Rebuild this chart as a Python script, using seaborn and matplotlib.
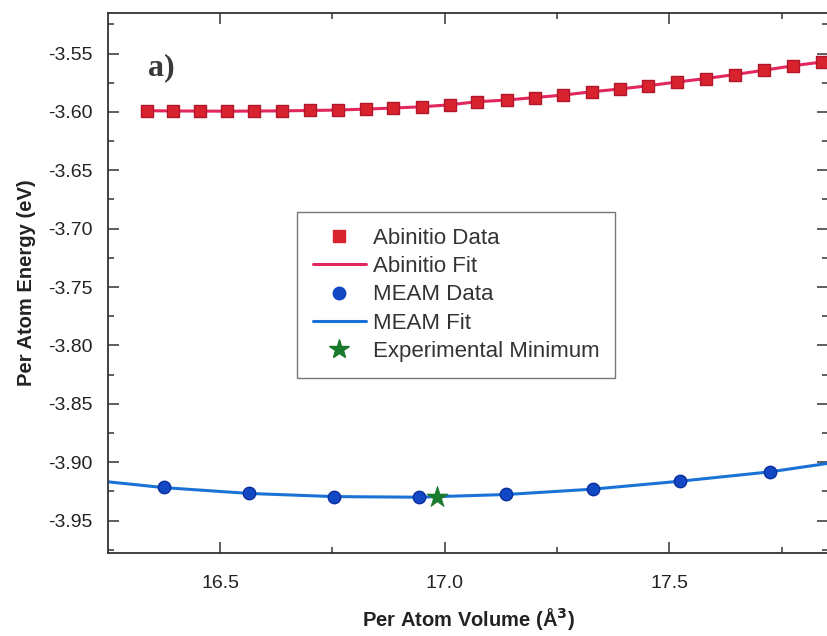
import numpy as np
import pandas as pd
import matplotlib
matplotlib.use("Agg")
import matplotlib.pyplot as plt
import seaborn as sns
from matplotlib.ticker import MultipleLocator, FormatStrFormatter
from matplotlib.lines import Line2D

# ---------------- data ----------------
abinitio_volume = [16.338, 16.395, 16.456, 16.516, 16.576, 16.638, 16.700, 16.763,
                   16.825, 16.885, 16.950, 17.012, 17.072, 17.139, 17.201, 17.263,
                   17.328, 17.390, 17.453, 17.517, 17.582, 17.646, 17.711, 17.775,
                   17.839]
abinitio_energy = [-3.5990, -3.5992, -3.5993, -3.5994, -3.5993, -3.5991, -3.5988,
                   -3.5984, -3.5976, -3.5967, -3.5956, -3.5939, -3.5913, -3.5898,
                   -3.5877, -3.5856, -3.5827, -3.5804, -3.5776, -3.5744, -3.5714,
                   -3.5680, -3.5643, -3.5605, -3.5573]

meam_volume = [16.375, 16.565, 16.754, 16.943, 17.137, 17.330, 17.524, 17.724]
meam_energy = [-3.9216, -3.9267, -3.9296, -3.9301, -3.9276, -3.9230, -3.9162, -3.9082]

meam_fit_volume = [16.250, 16.375, 16.565, 16.754, 16.943, 17.137, 17.330, 17.524,
                   17.724, 17.853]
meam_fit_energy = [-3.9168, -3.9218, -3.9268, -3.9295, -3.9300, -3.9277, -3.9231,
                   -3.9163, -3.9083, -3.9010]

exp_min_volume = [16.983]
exp_min_energy = [-3.9296]

x_ticks = [16.5, 17.0, 17.5]
y_ticks = [-3.95, -3.90, -3.85, -3.80, -3.75, -3.70, -3.65, -3.60, -3.55]

legend_labels = ["Abinitio Data", "Abinitio Fit", "MEAM Data", "MEAM Fit",
                 "Experimental Minimum"]

# ---------------- styling ----------------
sns.set_theme(style="ticks")
plt.rcParams['font.family'] = ['Liberation Sans', 'DejaVu Sans']
plt.rcParams['axes.unicode_minus'] = False

red_fill = "#d8232f"
red_edge = "#b0172a"
red_line = "#e2275e"
blue_fill = "#1348c4"
blue_edge = "#0a2f9c"
blue_line = "#1a72d6"
star_col = "#1a7a2c"
spine_col = "#333333"

fig = plt.figure(figsize=(8.28, 6.36), dpi=100)
ax = fig.add_axes([108 / 828, 83 / 636, 720 / 828, 540 / 636])

df_ab = pd.DataFrame({"v": abinitio_volume, "e": abinitio_energy})
df_meam = pd.DataFrame({"v": meam_volume, "e": meam_energy})
df_meam_fit = pd.DataFrame({"v": meam_fit_volume, "e": meam_fit_energy})
df_exp = pd.DataFrame({"v": exp_min_volume, "e": exp_min_energy})

sns.lineplot(data=df_ab, x="v", y="e", ax=ax, color=red_line, linewidth=2.2,
             errorbar=None, zorder=2, legend=False)
sns.lineplot(data=df_meam_fit, x="v", y="e", ax=ax, color=blue_line, linewidth=2.2,
             errorbar=None, zorder=2, legend=False)
sns.scatterplot(data=df_ab, x="v", y="e", ax=ax, marker="s", s=64, color=red_fill,
                edgecolor=red_edge, linewidth=1.0, zorder=3, legend=False)
sns.scatterplot(data=df_meam, x="v", y="e", ax=ax, marker="o", s=80, color=blue_fill,
                edgecolor=blue_edge, linewidth=1.0, zorder=3, legend=False)
sns.scatterplot(data=df_exp, x="v", y="e", ax=ax, marker="*", s=260, color=star_col,
                edgecolor=star_col, linewidth=0.5, zorder=4, legend=False)

ax.set_xlim(16.2507, 17.853)
ax.set_ylim(-3.9778, -3.5153)
ax.set_xticks(x_ticks)
ax.set_yticks(y_ticks)
ax.xaxis.set_minor_locator(MultipleLocator(0.25))
ax.yaxis.set_minor_locator(MultipleLocator(0.025))
ax.xaxis.set_major_formatter(FormatStrFormatter("%.1f"))
ax.yaxis.set_major_formatter(FormatStrFormatter("%.2f"))

ax.tick_params(which="both", direction="in", top=True, right=True,
               color=spine_col, width=1.1)
ax.tick_params(which="major", length=8, labelsize=14, labelcolor="#222222")
ax.tick_params(axis="y", which="major", pad=11)
ax.tick_params(axis="x", which="major", pad=16)
ax.tick_params(which="minor", length=4.5)
for sp in ax.spines.values():
    sp.set_color(spine_col)
    sp.set_linewidth(1.3)

ax.set_xlabel("Per Atom Volume (Å$^{\\mathbf{3}}$)", fontsize=14.5,
              fontweight="bold", color="#222222", labelpad=10)
ax.set_ylabel("Per Atom Energy (eV)", fontsize=14.5, fontweight="bold",
              color="#222222", labelpad=9)

ax.text(0.056, 0.885, "a)", transform=ax.transAxes, fontsize=23,
        fontweight="bold", family=["Liberation Serif", "DejaVu Serif"],
        color="#3a3a3a", ha="left", va="baseline")

handles = [
    Line2D([], [], linestyle="none", marker="s", markersize=8,
           markerfacecolor=red_fill, markeredgecolor=red_fill),
    Line2D([], [], color=red_line, linewidth=2.2),
    Line2D([], [], linestyle="none", marker="o", markersize=9,
           markerfacecolor=blue_fill, markeredgecolor=blue_fill),
    Line2D([], [], color=blue_line, linewidth=2.2),
    Line2D([], [], linestyle="none", marker="*", markersize=15,
           markerfacecolor=star_col, markeredgecolor=star_col),
]
leg = ax.legend(handles, legend_labels, loc="upper left",
                bbox_to_anchor=(0.262, 0.632), borderaxespad=0,
                fontsize=16, frameon=True, fancybox=False,
                handlelength=2.4, handletextpad=0.3, labelspacing=0.33,
                borderpad=0.72)
leg.get_frame().set_edgecolor("#555555")
leg.get_frame().set_linewidth(1.0)
for t in leg.get_texts():
    t.set_color("#333333")

fig.savefig("out.png", dpi=100)
